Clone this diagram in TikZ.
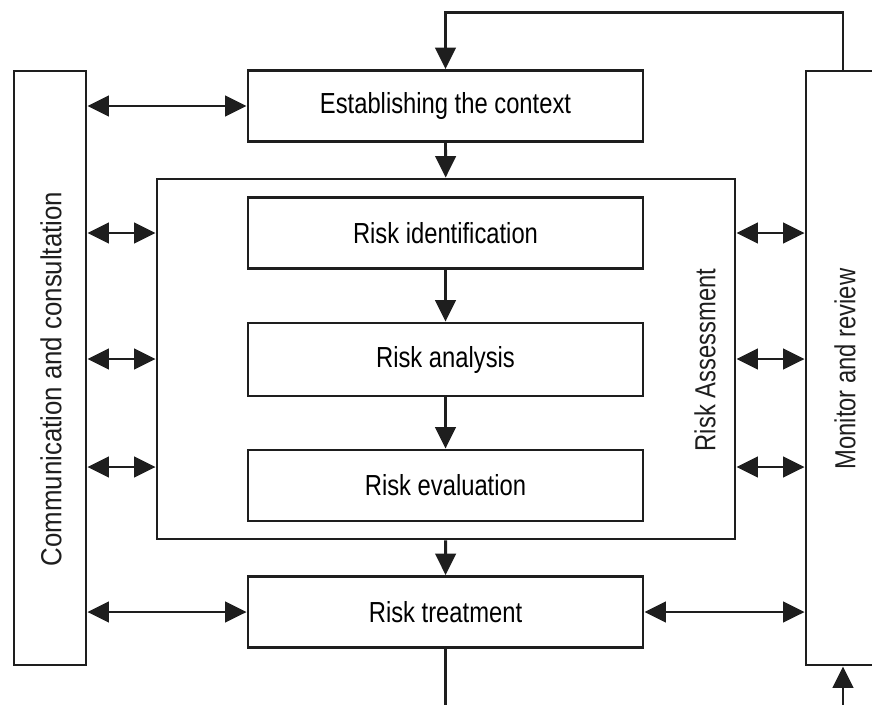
\documentclass[tikz,border=0pt]{standalone}
\usepackage{fontspec}
\setmainfont{Liberation Sans}[FakeStretch=0.82]
\newfontfamily\widefont{Liberation Sans}[FakeStretch=0.89]
\usepackage{tikz}
\usetikzlibrary{arrows.meta,calc,positioning}
\definecolor{Ink}{HTML}{1E1E1E}

\begin{document}
\begin{tikzpicture}[
    line width=1.6pt, draw=Ink,
    stepbox/.style={draw=Ink, line width=1.6pt, minimum width=7.9cm, minimum height=1.42cm, inner sep=0pt, font=\fontsize{16.5}{19}\selectfont},
    sidebox/.style={draw=Ink, line width=1.6pt, minimum height=11.88cm, inner sep=0pt},
    sidetext/.style={rotate=90, text=Ink, font=\fontsize{16.5}{19}\selectfont},
    tip/.style={-{Triangle[length=4.3mm, width=4.1mm]}},
    both/.style={{Triangle[length=4.3mm, width=4.1mm]}-{Triangle[length=4.3mm, width=4.1mm]}}
  ]
  \useasboundingbox (0,0) rectangle (17.44,-14.08);
  % side columns
  \node[sidebox, minimum width=1.44cm] (comm) at (1.0,-7.36) {};
  \node[sidetext, font=\widefont\fontsize{16.5}{19}\selectfont] (commtxt) at (1.02,-7.58) {Communication and consultation};
  \node[sidebox, minimum width=1.48cm] (mon) at (16.86,-7.36) {};
  \node[sidetext] (montxt) at (16.9,-7.38) {Monitor and review};
  % main steps
  \node[stepbox] (ctx) at (8.91,-2.12) {Establishing the context};
  \node[draw=Ink, line width=1.6pt, minimum width=11.56cm, minimum height=7.2cm] (ra) at (8.92,-7.18) {};
  \node[sidetext] (ratxt) at (14.1,-7.2) {Risk Assessment};
  \node[stepbox] (ident) at (8.91,-4.66) {Risk identification};
  \node[stepbox, minimum height=1.46cm] (anal) at (8.91,-7.19) {Risk analysis};
  \node[stepbox] (evalu) at (8.91,-9.71) {Risk evaluation};
  \node[stepbox] (treat) at (8.91,-12.24) {Risk treatment};
  % flow
  \draw[tip] (ctx) -- (ra);
  \draw[tip] (ident) -- (anal);
  \draw[tip] (anal) -- (evalu);
  \draw[tip] (ra) -- (treat);
  \draw[tip] (mon.north) -- ++(0,1.14) -| (ctx.north);
  \draw[tip] (treat.south) -- ++(0,-1.35) -| (mon.south);
  % exchanges
  \draw[both] (comm.east |- ctx) -- (ctx.west);
  \draw[both] (comm.east |- treat) -- (treat.west);
  \draw[both] (treat.east) -- (mon.west |- treat);
  \foreach \y in {-4.66,-7.18,-9.34}{
    \draw[both] (comm.east |- 0,\y) -- (ra.west |- 0,\y);
    \draw[both] (ra.east |- 0,\y) -- (mon.west |- 0,\y);
  }
\end{tikzpicture}
\end{document}
